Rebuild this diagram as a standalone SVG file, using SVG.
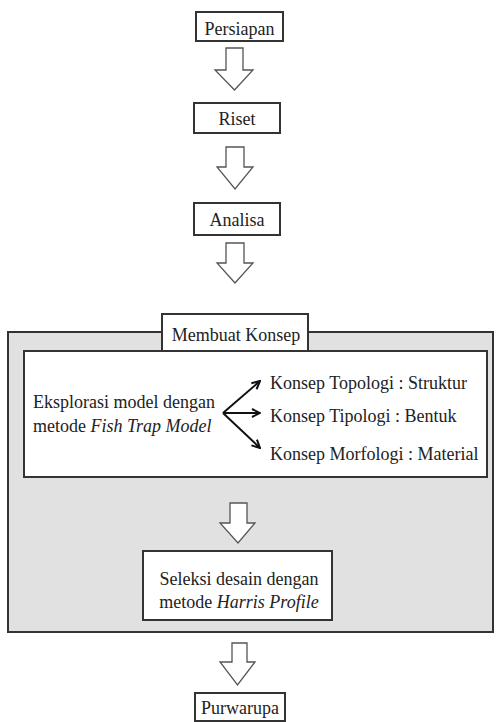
<svg xmlns="http://www.w3.org/2000/svg" width="496" height="722" viewBox="0 0 496 722">
<defs>
<style>
.box{fill:#fff;stroke:#333;stroke-width:2}
.t{font-family:'Liberation Serif','DejaVu Serif',serif;font-size:18px;fill:#222}
.c{text-anchor:middle}
.blk{fill:#fff;stroke:#555;stroke-width:1.3;stroke-linejoin:miter}
.ln{fill:none;stroke:#111;stroke-width:2}
</style>
<marker id="ah" viewBox="0 0 10 10" refX="9" refY="5" markerWidth="10" markerHeight="10" markerUnits="userSpaceOnUse" orient="auto">
<path d="M1,1 L9,5 L1,9" fill="none" stroke="#111" stroke-width="2"/>
</marker>
</defs>
<rect width="496" height="722" fill="#fff"/>
<g id="konsep-group">
<rect x="8" y="332" width="485" height="300" fill="#e1e1e1" stroke="#333" stroke-width="2"/>
</g>
<g id="persiapan"><rect class="box" x="196" y="12" width="87" height="29"/><text class="t c" x="239.5" y="35">Persiapan</text></g>
<g id="riset"><rect class="box" x="194" y="103" width="86" height="30"/><text class="t c" x="237" y="125">Riset</text></g>
<g id="analisa"><rect class="box" x="194" y="203" width="86" height="32"/><text class="t c" x="237" y="226">Analisa</text></g>
<g id="membuat-konsep"><rect class="box" x="162" y="314" width="146" height="38"/><text class="t c" x="236" y="341">Membuat Konsep</text></g>
<g id="eksplorasi">
<rect class="box" x="24" y="351" width="463" height="126"/>
<text class="t" x="33" y="408">Eksplorasi model dengan</text>
<text class="t" x="33" y="432">metode <tspan font-style="italic">Fish Trap Model</tspan></text>
</g>
<g id="topologi"><text class="t" x="270" y="389">Konsep Topologi : Struktur</text></g>
<g id="tipologi"><text class="t" x="270" y="422">Konsep Tipologi : Bentuk</text></g>
<g id="morfologi"><text class="t" x="270" y="460">Konsep Morfologi : Material</text></g>
<g id="seleksi">
<rect class="box" x="143" y="551" width="189" height="69"/>
<text class="t c" x="239" y="585">Seleksi desain dengan</text>
<text class="t c" x="239" y="608">metode <tspan font-style="italic">Harris Profile</tspan></text>
</g>
<g id="purwarupa"><rect class="box" x="195" y="693" width="90" height="28"/><text class="t c" x="240" y="714">Purwarupa</text></g>
<g id="connectors">
<path class="blk" d="M226,48 H243 V70 H253 L234.5,90 L215,70 H226 Z"/>
<path class="blk" d="M226,147 H244 V167 H253 L235,189 L217,167 H226 Z"/>
<path class="blk" d="M226,243 H244 V263 H253 L235,283 L217,263 H226 Z"/>
<path class="blk" d="M230,503 H247 V523 H255 L238,543 L220,523 H230 Z"/>
<path class="blk" d="M232,643 H247 V662 H255 L237.5,685 L220,662 H232 Z"/>
<line class="ln" x1="223" y1="413" x2="260" y2="381" marker-end="url(#ah)"/>
<line class="ln" x1="223" y1="413" x2="260" y2="413" marker-end="url(#ah)"/>
<line class="ln" x1="223" y1="413" x2="260" y2="448" marker-end="url(#ah)"/>
</g>
</svg>
